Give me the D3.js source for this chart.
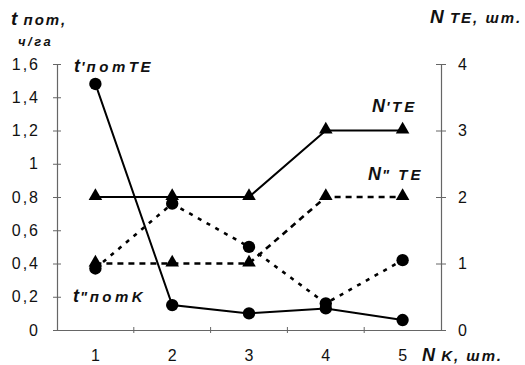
<!DOCTYPE html>
<html>
<head>
<meta charset="utf-8">
<script src="https://cdn.jsdelivr.net/npm/d3@7"></script>
<style>
  html, body { margin: 0; padding: 0; background: #fff; }
  svg { display: block; }
  text { font-family: "Liberation Sans", Arial, sans-serif; fill: #111; }
</style>
</head>
<body>
<svg id="chart" width="525" height="365"></svg>
<script>
// Number of teams / combines on the horizontal axis
const categories = ["1", "2", "3", "4", "5"];
// Labour time per hectare, left axis (ч/га)
const tPotTE = [1.48, 0.15, 0.10, 0.13, 0.06];
const tPotK  = [0.37, 0.76, 0.50, 0.16, 0.42];
// Number of technical units, right axis (шт.)
const nTE1 = [2, 2, 2, 3, 3];
const nTE2 = [1, 1, 1, 2, 2];
// Tick values
const leftTicks  = [0, 0.2, 0.4, 0.6, 0.8, 1.0, 1.2, 1.4, 1.6];
const rightTicks = [0, 1, 2, 3, 4];

const svg = d3.select("#chart");
const plot = { left: 57, right: 441, top: 64, bottom: 330 };

const x = d3.scaleBand().domain(categories).range([plot.left, plot.right]);
const cx = c => x(c) + x.bandwidth() / 2;
const yL = d3.scaleLinear().domain([0, 1.6]).range([plot.bottom, plot.top]);
const yR = d3.scaleLinear().domain([0, 4]).range([plot.bottom, plot.top]);

const fmt = d => d3.format("~g")(d).replace(".", ",");
const axisColor = "#666";

// Left axis
const gL = svg.append("g").attr("transform", `translate(${plot.left},0)`)
  .call(d3.axisLeft(yL).tickValues(leftTicks).tickFormat(fmt).tickSize(4).tickSizeOuter(0));
gL.select(".domain").attr("stroke", axisColor).attr("stroke-width", 1.2);
gL.selectAll(".tick line").attr("x1", -4).attr("x2", 4).attr("stroke", axisColor);
gL.selectAll(".tick text").attr("x", -17).attr("font-size", 16).attr("letter-spacing", 2)
  .attr("font-family", "Liberation Sans, Arial, sans-serif").attr("fill", "#111");

// Right axis
const gR = svg.append("g").attr("transform", `translate(${plot.right},0)`)
  .call(d3.axisRight(yR).tickValues(rightTicks).tickFormat(fmt).tickSize(5).tickSizeOuter(0));
gR.select(".domain").attr("stroke", axisColor).attr("stroke-width", 1.2);
gR.selectAll(".tick line").attr("x1", -5).attr("x2", 5).attr("stroke", axisColor);
gR.selectAll(".tick text").attr("x", 17).attr("font-size", 16)
  .attr("font-family", "Liberation Sans, Arial, sans-serif").attr("fill", "#111");

// Bottom axis: labels at category centres, tick marks at band boundaries
const gB = svg.append("g").attr("transform", `translate(0,${plot.bottom})`)
  .call(d3.axisBottom(x).tickSize(0).tickPadding(20));
gB.select(".domain").attr("stroke", axisColor).attr("stroke-width", 1.2);
gB.selectAll(".tick text").attr("font-size", 16)
  .attr("font-family", "Liberation Sans, Arial, sans-serif").attr("fill", "#111");
gB.selectAll(".boundary").data(categories.slice(1)).join("line")
  .attr("class", "boundary")
  .attr("x1", d => x(d)).attr("x2", d => x(d))
  .attr("y1", -3).attr("y2", 3)
  .attr("stroke", axisColor);

// Series
const series = [
  { values: tPotTE, y: yL, dash: null,  marker: "circle" },
  { values: tPotK,  y: yL, dash: "4,6", marker: "circle" },
  { values: nTE1,   y: yR, dash: null,  marker: "triangle" },
  { values: nTE2,   y: yR, dash: "6,5", marker: "triangle" }
];

const line = (s) => d3.line().x((d, i) => cx(categories[i])).y(d => s.y(d));

series.forEach(s => {
  svg.append("path")
    .datum(s.values)
    .attr("d", line(s))
    .attr("fill", "none")
    .attr("stroke", "#000")
    .attr("stroke-width", s.dash ? 2.6 : 2)
    .attr("stroke-dasharray", s.dash);
});

const sym = {
  circle: d3.symbol().type(d3.symbolCircle).size(120),
  triangle: d3.symbol().type(d3.symbolTriangle).size(80)
};
series.forEach(s => {
  svg.append("g").selectAll("path").data(s.values).join("path")
    .attr("d", sym[s.marker])
    .attr("transform", (d, i) => `translate(${cx(categories[i])},${s.y(d) + (s.marker === "triangle" ? -1 : 0)})`)
    .attr("fill", "#000");
});

// Axis titles and series labels
function label(xp, yp, parts) {
  const t = svg.append("text").attr("x", xp).attr("y", yp)
    .attr("font-weight", "bold").attr("font-style", "italic");
  parts.forEach(p => {
    t.append("tspan").text(p[0]).attr("font-size", p[1])
      .attr("letter-spacing", p[2] || 0);
  });
  return t;
}

label(11, 25, [["t", 19], [" пот,", 15, 2]]);
label(18, 46, [["ч/га", 13, 2.5]]);
label(430, 23, [["N", 19], [" TE, шт.", 15, 2]]);

label(74, 72, [["t", 18, 1], ["'", 15, 2], ["пот", 15, 3.5], ["TE", 15, 2.5]]);
label(73, 302, [["t", 18, 1], ["\"", 15, 2.5], ["пот", 15, 3.5], ["K", 15, 2]]);
label(372, 112, [["N", 18, 1], ["'", 15, 2.5], ["TE", 15, 3]]);
label(368, 180, [["N", 18, 1], ["\" ", 15, 2.5], ["TE", 15, 3]]);
label(422, 361, [["N", 18], [" K, шт.", 15, 2]]);
</script>
</body>
</html>
